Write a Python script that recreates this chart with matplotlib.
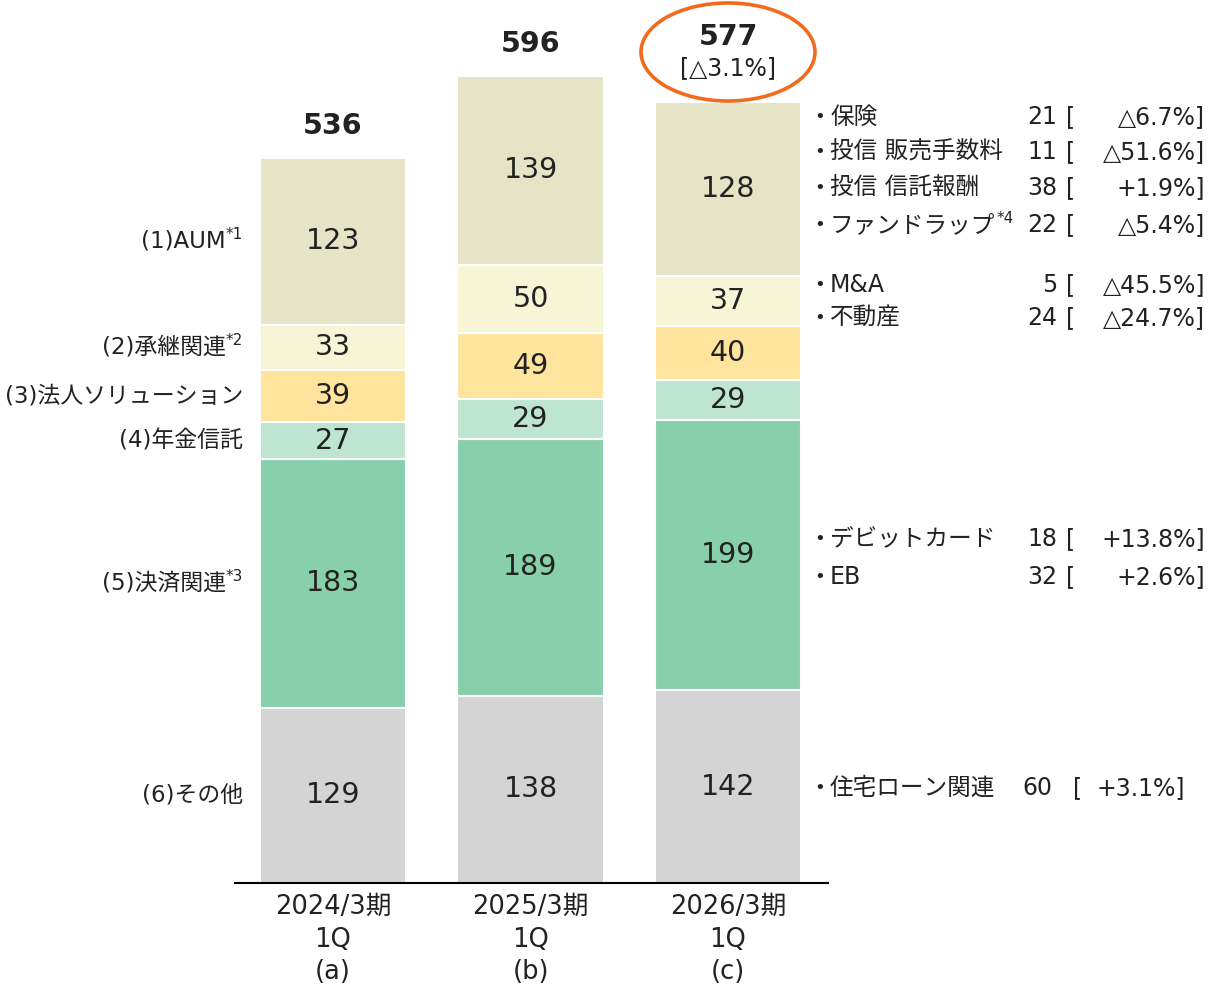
import matplotlib
matplotlib.use("Agg")
import matplotlib.pyplot as plt
import numpy as np
from matplotlib.patches import Ellipse

# latin glyphs from DejaVu, japanese falls back to Noto CJK
plt.rcParams['font.family'] = ['DejaVu Sans', 'Noto Sans CJK JP']

# data (bottom -> top)
periods = ['2024/3期\n1Q\n(a)', '2025/3期\n1Q\n(b)', '2026/3期\n1Q\n(c)']
seg_names = ['(6)その他', '(5)決済関連', '(4)年金信託', '(3)法人ソリューション', '(2)承継関連', '(1)AUM']
seg_notes = ['', '*3', '', '', '*2', '*1']
other = [129, 138, 142]
settlement = [183, 189, 199]
pension = [27, 29, 29]
corporate = [39, 49, 40]
succession = [33, 50, 37]
aum = [123, 139, 128]
totals = [536, 596, 577]
total_change = '[△3.1%]'

colors = ['#d4d4d4', '#88d0ab', '#bee5d2', '#ffe49e', '#f6f5d5', '#e5e4c6']

# breakdown notes for the latest period
right_names = ['保険', '投信 販売手数料', '投信 信託報酬', 'ファンドラップ', 'M&A', '不動産',
               'デビットカード', 'EB', '住宅ローン関連']
right_notes = ['', '', '', '*4', '', '', '', '', '']
right_vals = [21, 11, 38, 22, 5, 24, 18, 32, 60]
right_pcts = ['△6.7%', '△51.6%', '+1.9%', '△5.4%', '△45.5%', '△24.7%', '+13.8%', '+2.6%', '+3.1%']
right_y = [117, 152, 188, 225, 285, 318, 539, 577, 788]

TXT = '#222222'
W, H = 1211, 988
fig = plt.figure(figsize=(W / 100, H / 100), dpi=100)
ax = fig.add_axes([235 / W, (H - 883) / H, (828 - 235) / W, 883 / H])
r = fig.canvas.get_renderer()

x = np.arange(3)
stack = np.array([other, settlement, pension, corporate, succession, aum])
bottom = np.zeros(3)
for vals, c in zip(stack, colors):
    ax.bar(x, vals, 0.74, bottom=bottom, color=c, edgecolor='white', linewidth=1.5)
    for xi, v, b in zip(x, vals, bottom):
        ax.text(xi, b + v / 2, str(v), ha='center', va='center', fontsize=20.5, color=TXT)
    bottom = bottom + vals

ax.set_xlim(-0.496, 2.506)
ax.set_ylim(0, 650)
for s in ['top', 'right', 'left']:
    ax.spines[s].set_visible(False)
ax.spines['bottom'].set_linewidth(1.5)
ax.set_yticks([])
ax.set_xticks(x)
ax.set_xticklabels(periods, fontsize=18.5, linespacing=1.33, color=TXT)
ax.tick_params(axis='x', length=0, pad=8)

# totals
for xi, t, top in zip(x, totals, bottom):
    if xi == 2:
        ax.annotate(str(t), (xi, top), xytext=(0, 47), textcoords='offset points',
                    ha='center', va='center', fontsize=20.5, fontweight='bold', color=TXT)
        ax.annotate(total_change, (xi, top), xytext=(0, 24), textcoords='offset points',
                    ha='center', va='center', fontsize=17, color=TXT)
    else:
        ax.annotate(str(t), (xi, top), xytext=(0, 23), textcoords='offset points',
                    ha='center', va='center', fontsize=20.5, fontweight='bold', color=TXT)

ell = Ellipse((728 / W, 1 - 52 / H), 174 / W, 98 / H, transform=fig.transFigure,
              fill=False, edgecolor='#f26b1d', linewidth=2.6)
fig.patches.append(ell)

# left labels aligned with the first bar's segments
b0 = 0
for name, note, vals in zip(seg_names, seg_notes, stack):
    mid = b0 + vals[0] / 2
    b0 += vals[0]
    yf = ax.transData.transform((0, mid))[1] / H
    xr = 243
    if note:
        n = fig.text(xr / W, yf + 0.007, note, ha='right', va='center', fontsize=11, color=TXT)
        xr = n.get_window_extent(r).x0
    fig.text(xr / W, yf, name, ha='right', va='center', fontsize=16.5, color=TXT)

# right breakdown notes
for name, note, v, p, yp in zip(right_names, right_notes, right_vals, right_pcts, right_y):
    yf = 1 - yp / H
    fig.text(814 / W, yf, '•', ha='left', va='center', fontsize=13, color=TXT)
    t = fig.text(830 / W, yf, name, ha='left', va='center', fontsize=17, color=TXT)
    if note:
        x1 = t.get_window_extent(r).x1
        fig.text((x1 + 1) / W, yf + 0.007, note, ha='left', va='center', fontsize=11, color=TXT)
    last = name == '住宅ローン関連'
    fig.text((1052 if last else 1057) / W, yf, str(v), ha='right', va='center', fontsize=17, color=TXT)
    fig.text((1073 if last else 1066) / W, yf, '[', ha='left', va='center', fontsize=17, color=TXT)
    fig.text((1185 if last else 1205) / W, yf, p + ']', ha='right', va='center', fontsize=17, color=TXT)

fig.savefig('out.png', dpi=100)
